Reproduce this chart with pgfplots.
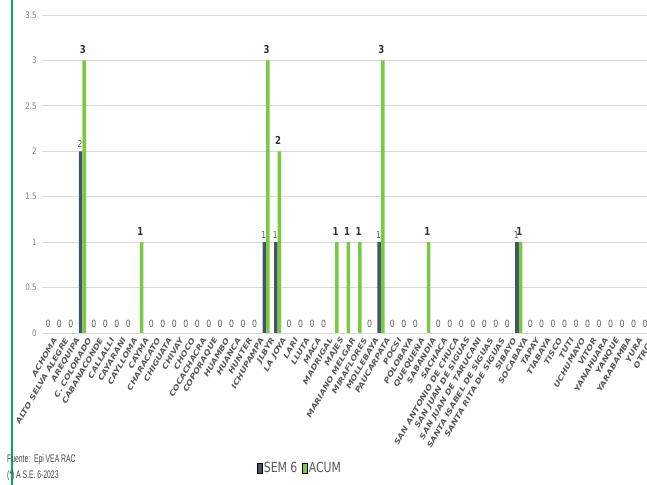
\documentclass[border=0pt]{standalone}
\usepackage{fontspec}
\setmainfont{DejaVu Sans}[FakeStretch=0.78]
\newfontfamily\labfont{DejaVu Sans}[FakeStretch=1.2]
\newfontfamily\footfont{Liberation Sans}[FakeStretch=0.62]
\usepackage{pgfplots}
\usepackage{pgfplotstable}
\pgfplotsset{compat=1.18}
\definecolor{semc}{HTML}{44546A}
\definecolor{acumc}{HTML}{7AC943}
\definecolor{txtgray}{HTML}{595959}
\definecolor{tickgray}{HTML}{7F7F7F}
\definecolor{gridc}{HTML}{D9D9D9}
\definecolor{framec}{HTML}{00B050}

% x = posicion del distrito, sem = SEM 6, acum = acumulado
\pgfplotstableread{
x sem acum
0 0 0
1 0 0
2 0 0
3 2 3
4 0 0
5 0 0
6 0 0
7 0 0
8 0 1
9 0 0
10 0 0
11 0 0
12 0 0
13 0 0
14 0 0
15 0 0
16 0 0
17 0 0
18 0 0
19 1 3
20 1 2
21 0 0
22 0 0
23 0 0
24 0 0
25 0 1
26 0 1
27 0 1
28 0 0
29 1 3
30 0 0
31 0 0
32 0 0
33 0 1
34 0 0
35 0 0
36 0 0
37 0 0
38 0 0
39 0 0
40 0 0
41 1 1
42 0 0
43 0 0
44 0 0
45 0 0
46 0 0
47 0 0
48 0 0
49 0 0
50 0 0
51 0 0
52 0 0
}\datatable

\begin{document}
\begin{tikzpicture}[x=1bp,y=1bp]
\path[use as bounding box] (0,0) rectangle (647,485);
\draw[framec, line width=1.2bp] (12,0) -- (12,485);
\node[anchor=west, inner sep=0, text=txtgray!80!black, font=\footfont\fontsize{11}{11}\selectfont] at (7,25) {Fuente:\ \ Epi VEA RAC};
\node[anchor=west, inner sep=0, text=txtgray!80!black, font=\footfont\fontsize{11}{11}\selectfont] at (7,9) {(*) A S.E. 6-2023};
\begin{axis}[
  at={(42bp,152bp)}, anchor=south west,
  scale only axis,
  width=605bp, height=318bp,
  xmin=-0.52, xmax=52.17,
  ymin=0, ymax=3.5,
  /pgf/number format/assume math mode=true,
  ytick={0,0.5,...,3.5},
  yticklabels={0,0.5,1,1.5,2,2.5,3,3.5},
  ymajorgrids,
  grid style={gridc, line width=0.8bp},
  axis line style={draw=none},
  major tick length=0,
  yticklabel style={font=\fontsize{9}{9}\selectfont, text=tickgray, xshift=-2bp},
  xtick={0,...,52},
  xticklabels={ACHOMA, ALTO SELVA ALEGRE, AREQUIPA, C. COLORADO, CABANACONDE,
    CALLALLI, CAYARANI, CAYLLOMA, CAYMA, CHARACATO, CHIGUATA, CHIVAY, CHOCO,
    COCACHACRA, COPORAQUE, HUAMBO, HUANCA, HUNTER, ICHUPAMPA, JLBYR, LA JOYA,
    LARI, LLUTA, MACA, MADRIGAL, MAJES, MARIANO MELGAR, MIRAFLORES, MOLLEBAYA,
    PAUCARPATA, POCSI, POLOBAYA, QUEQUEÑA, SABANDIA, SACHACA,
    SAN ANTONIO DE CHUCA, SAN JUAN DE SIGUAS, SAN JUAN DE TARUCANI,
    SANTA ISABEL DE SIGUAS, SANTA RITA DE SIGUAS, SIBAYO, SOCABAYA, TAPAY,
    TIABAYA, TISCO, TUTI, UCHUMAYO, VITOR, YANAHUARA, YANQUE, YARABAMBA,
    YURA, OTROS},
  xticklabel style={rotate=60, anchor=east, inner sep=1bp, yshift=-9bp,
    font=\labfont\bfseries\itshape\fontsize{7.3}{8}\selectfont, text=txtgray},
  legend image code/.code={\fill[#1] (0bp,-5bp) rectangle (5bp,5bp);},
  legend style={at={(0.426,-0.425)}, anchor=center, draw=none, fill=none,
    legend columns=2, font=\fontsize{14}{14}\selectfont, text=txtgray,
    /tikz/every even column/.append style={column sep=4bp},
    nodes={inner sep=1bp}},
]
\addplot[ybar, bar width=3.6bp, bar shift=-1.8bp, fill=semc, draw=none, forget plot,
  y filter/.expression={y==0 ? nan : y},
  nodes near coords,
  nodes near coords style={font=\fontsize{9.5}{9.5}\selectfont, text=txtgray, xshift=-2.5bp, yshift=0bp}]
  table[x=x, y=sem]{\datatable};
\addplot[ybar, bar width=3.6bp, bar shift=1.8bp, fill=acumc, draw=none, forget plot,
  y filter/.expression={y==0 ? nan : y},
  nodes near coords,
  nodes near coords style={font=\bfseries\fontsize{11}{11}\selectfont, text=black!80, xshift=0.5bp, yshift=3bp}]
  table[x=x, y=acum]{\datatable};
% etiquetas de cero
\addplot[ybar, bar width=0bp, bar shift=1.8bp, draw=none, fill=none, forget plot,
  y filter/.expression={y==0 ? 0 : nan},
  nodes near coords,
  nodes near coords style={font=\fontsize{10}{10}\selectfont, text=txtgray, yshift=2bp}]
  table[x=x, y=acum]{\datatable};
\addlegendimage{fill=semc}
\addlegendentry{SEM 6}
\addlegendimage{fill=acumc}
\addlegendentry{ACUM}
\end{axis}
\end{tikzpicture}
\end{document}
